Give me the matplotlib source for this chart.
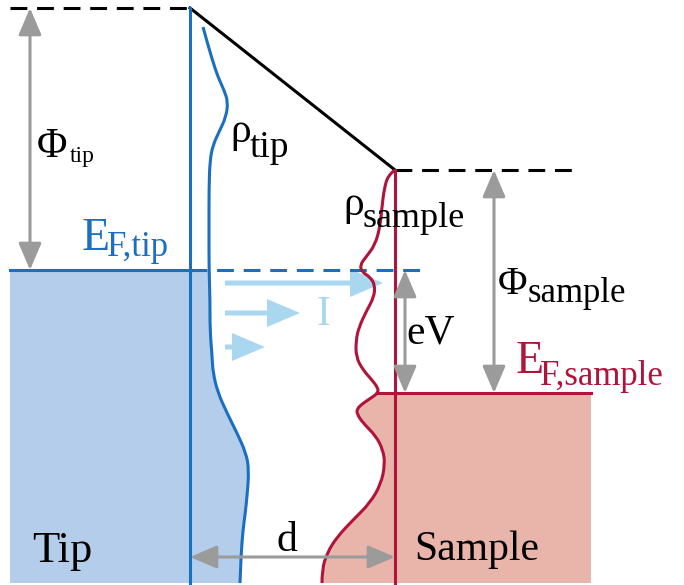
import numpy as np
import matplotlib
matplotlib.use("Agg")
import matplotlib.pyplot as plt
from matplotlib.patches import Polygon, FancyArrow, PathPatch
from matplotlib.path import Path

# colours
blue = "#1a6fc0"
blue_fill = "#b4cdeb"
red = "#b0143a"
red_fill = "#e9b4aa"
grey = "#9b9b9b"
light_blue = "#aad7f0"

# energy levels (pixel units, y grows downward)
vac_tip = 8
vac_sample = 170
ef_tip = 270
ef_sample = 393
x_left = 10
x_tip = 190
x_sample = 395
x_right = 591
y_bottom = 583

# density of states curves (x, y)
rho_tip_x = [203, 208, 213, 218, 224, 228, 226, 219, 213, 210, 209, 209, 209, 210, 210, 212, 213, 218, 227, 237, 246, 249, 247, 245, 243, 241, 240]
rho_tip_y = [27, 45, 62, 77, 90, 102, 117, 132, 145, 160, 187, 230, 267, 300, 330, 355, 373, 393, 413, 433, 453, 470, 497, 515, 530, 555, 583]
rho_s_x = [395, 388, 384, 382, 380, 375, 366, 360, 362, 370, 375, 374, 367, 359, 356, 356, 363, 372, 378, 378, 371, 362, 357, 357, 363, 376, 383, 385, 381, 370, 353, 337, 327, 322, 322]
rho_s_y = [170, 175, 190, 207, 227, 245, 257, 265, 272, 277, 285, 297, 310, 327, 340, 357, 370, 380, 388, 393, 398, 404, 409, 414, 423, 436, 450, 464, 484, 503, 520, 537, 553, 570, 583]

# tunnelling current arrows: (y, x_start, x_end)
current_y = [283, 313, 347]
current_x0 = [225, 225, 225]
current_x1 = [383, 300, 265]

fig = plt.figure(figsize=(6.84, 5.85), dpi=100)
ax = fig.add_axes([0, 0, 1, 1])
ax.set_xlim(0, 684)
ax.set_ylim(585, 0)
ax.axis("off")


def smooth_path(xs, ys):
    # quadratic bezier through midpoints, using the read points as controls
    pts = list(zip(xs, ys))
    verts = [pts[0]]
    codes = [Path.MOVETO]
    for i in range(1, len(pts) - 1):
        mid = ((pts[i][0] + pts[i + 1][0]) / 2, (pts[i][1] + pts[i + 1][1]) / 2)
        if i == len(pts) - 2:
            mid = pts[-1]
        verts += [pts[i], mid]
        codes += [Path.CURVE3, Path.CURVE3]
    return verts, codes


rtx = np.array(rho_tip_x)
rty = np.array(rho_tip_y)
rsx = np.array(rho_s_x)
rsy = np.array(rho_s_y)

# filled bands below Fermi levels
m = rty >= ef_tip
v, c = smooth_path(rtx[m], rty[m])
v = [(x_left, ef_tip), (rtx[m][0], ef_tip)] + v[1:] + [(x_left, y_bottom), (x_left, ef_tip)]
c = [Path.MOVETO, Path.LINETO] + c[1:] + [Path.LINETO, Path.CLOSEPOLY]
ax.add_patch(PathPatch(Path(v, c), fc=blue_fill, ec="none", zorder=1))

m = rsy >= ef_sample
v, c = smooth_path(rsx[m], rsy[m])
v = [(x_right, ef_sample), (rsx[m][0], ef_sample)] + v[1:] + [(x_right, y_bottom), (x_right, ef_sample)]
c = [Path.MOVETO, Path.LINETO] + c[1:] + [Path.LINETO, Path.CLOSEPOLY]
ax.add_patch(PathPatch(Path(v, c), fc=red_fill, ec="none", zorder=1))

# vacuum level / barrier
dash = (0, (5.5, 3.2))
ax.plot([x_left, x_tip], [vac_tip, vac_tip], color="black", lw=2.2, ls=dash, zorder=3)
ax.plot([x_tip, x_sample], [vac_tip, vac_sample], color="black", lw=2.2, zorder=3)
ax.plot([x_sample, 580], [vac_sample, vac_sample], color="black", lw=2.2, ls=dash, zorder=3)

# Fermi levels
ax.plot([x_left, x_tip], [ef_tip, ef_tip], color=blue, lw=2.2, zorder=3)
ax.plot([x_tip, 420], [ef_tip, ef_tip], color=blue, lw=2.2, ls=dash, zorder=3)
ax.plot([378, x_right], [ef_sample, ef_sample], color=red, lw=2.2, zorder=3)

# surfaces
ax.plot([x_tip, x_tip], [vac_tip, 585], color=blue, lw=2.2, zorder=3)
ax.plot([x_sample, x_sample], [vac_sample, 585], color=red, lw=2.2, zorder=3)

# DOS
v, c = smooth_path(rtx, rty)
ax.add_patch(PathPatch(Path(v, c), fc="none", ec=blue, lw=2.2, zorder=3))
v, c = smooth_path(rsx, rsy)
ax.add_patch(PathPatch(Path(v, c), fc="none", ec=red, lw=2.2, zorder=3))


# grey double arrows
def darrow(p0, p1):
    ax.annotate("", xy=p1, xytext=p0,
                arrowprops=dict(arrowstyle="<|-|>,head_length=0.75,head_width=0.32",
                                color=grey, lw=2.2, shrinkA=0, shrinkB=0,
                                mutation_scale=22), zorder=4)


darrow((30, vac_tip), (30, ef_tip))
darrow((494, vac_sample), (494, ef_sample))
darrow((405, ef_tip), (405, ef_sample))
darrow((x_tip, 557), (x_sample, 557))

# current arrows
for y, x0, x1 in zip(current_y, current_x0, current_x1):
    ax.add_patch(FancyArrow(x0, y, x1 - x0, 0, width=5, head_width=28, head_length=33,
                            length_includes_head=True, fc=light_blue, ec="none", zorder=2))

serif = "Liberation Serif"


def txt(x, y, s, size, color="black"):
    ax.text(x, y, s, fontsize=size, color=color, family=serif, ha="left", va="baseline", zorder=5)


txt(37, 157, "Φ", 30)
txt(70, 162, "tip", 17)
txt(230, 142, "ρ", 30)
txt(250, 157, "tip", 27)
txt(82, 250, "E", 33, blue)
txt(107, 256, "F,tip", 25, blue)
txt(343, 215, "ρ", 30)
txt(362, 227, "sample", 26)
txt(316, 325, "I", 30, light_blue)
txt(406, 343, "eV", 30)
txt(498, 294, "Φ", 29)
txt(528, 302, "sample", 25)
txt(516, 373, "E", 33, red)
txt(540, 385, "F,sample", 25, red)
txt(32, 562, "Tip", 32)
txt(277, 551, "d", 30)
txt(414, 560, "Sample", 30)

fig.savefig("out.png", dpi=100, facecolor="white")
